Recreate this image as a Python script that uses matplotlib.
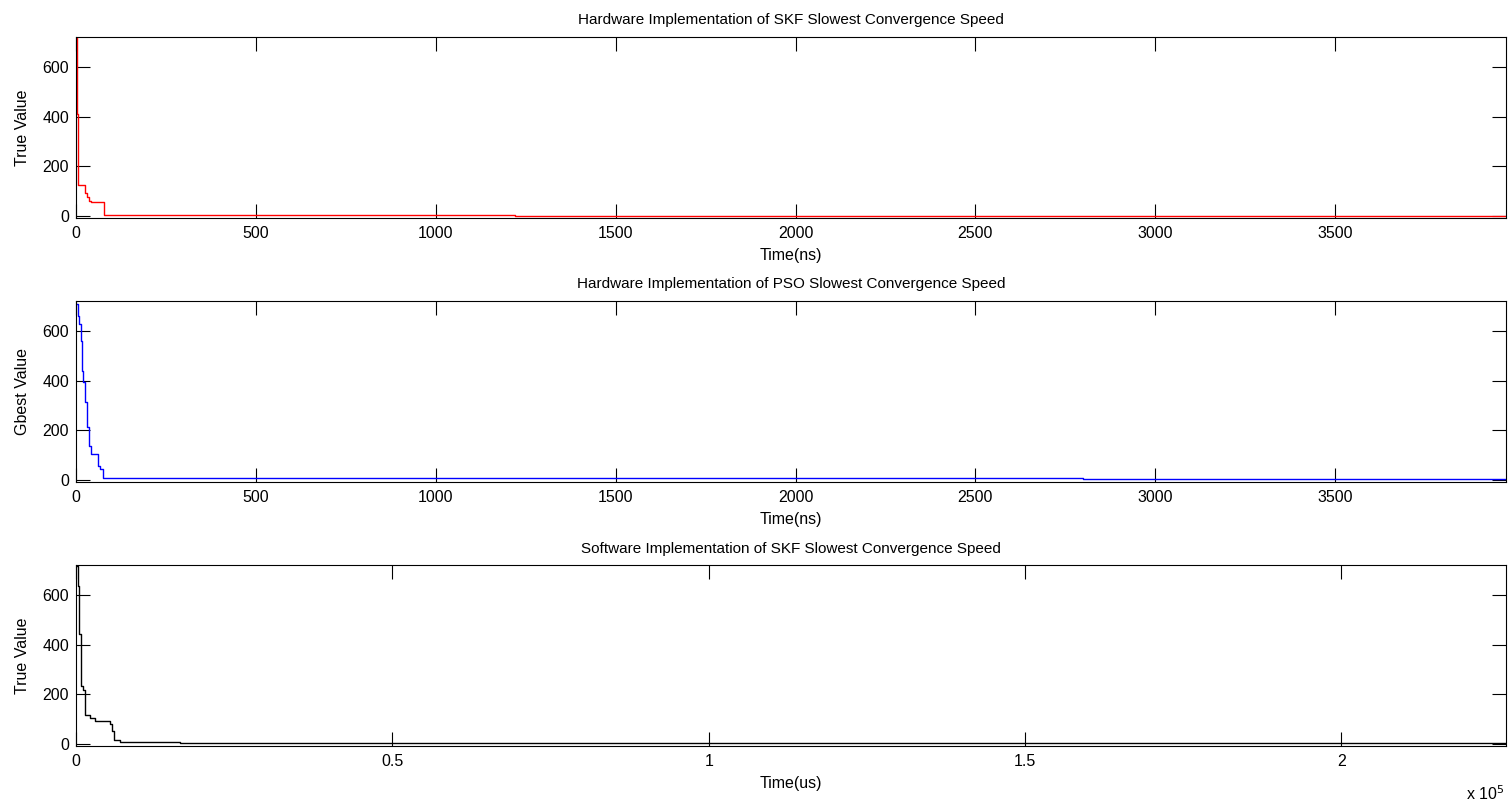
import matplotlib
matplotlib.use("Agg")
import matplotlib.pyplot as plt
from matplotlib.ticker import FuncFormatter

# Hardware SKF (ns) - red
skf_hw_t = [0, 3, 6, 25, 30, 35, 41, 79, 1220, 3975]
skf_hw_v = [725, 409, 123, 90, 73, 60, 53, 4, 0, 0]

# Hardware PSO (ns) - blue
pso_hw_t = [0, 5, 9, 14, 16, 20, 25, 31, 36, 41, 57, 62, 68, 74, 2800, 3975]
pso_hw_v = [708, 661, 630, 560, 439, 393, 313, 212, 137, 103, 103, 56, 43, 5, 1, 1]

# Software SKF (us) - black
skf_sw_t = [0, 300, 520, 790, 1150, 1420, 2210, 3000, 5370, 5740, 6050, 6950, 16430, 226000]
skf_sw_v = [720, 638, 444, 231, 215, 116, 103, 90, 80, 50, 16, 6, 0.5, 0.5]

plt.rcParams["font.family"] = ["Liberation Sans", "DejaVu Sans"]

FS_TICK = 11.5
FS_LABEL = 11.5
FS_TITLE = 11

fig = plt.figure(figsize=(15.11, 8.06), dpi=100)

panels = [
    (skf_hw_t, skf_hw_v, "red", "Hardware Implementation of SKF Slowest Convergence Speed",
     "True Value", "Time(ns)", 0.7295, (0, 3975), [0, 500, 1000, 1500, 2000, 2500, 3000, 3500]),
    (pso_hw_t, pso_hw_v, "blue", "Hardware Implementation of PSO Slowest Convergence Speed",
     "Gbest Value", "Time(ns)", 0.4020, (0, 3975), [0, 500, 1000, 1500, 2000, 2500, 3000, 3500]),
    (skf_sw_t, skf_sw_v, "black", "Software Implementation of SKF Slowest Convergence Speed",
     "True Value", "Time(us)", 0.0744, (0, 226000), [0, 50000, 100000, 150000, 200000]),
]

for t, v, color, title, ylabel, xlabel, bottom, xlim, xticks in panels:
    ax = fig.add_axes([0.0503, bottom, 0.9464, 0.2246])
    ax.plot(t, v, color=color, linewidth=1.0, drawstyle="steps-post")
    ax.set_xlim(*xlim)
    ax.set_ylim(-10, 722)
    ax.set_xticks(xticks)
    ax.set_yticks([0, 200, 400, 600])
    ax.tick_params(direction="in", top=True, right=True, length=10, width=0.8,
                   labelsize=FS_TICK)
    ax.tick_params(axis="x", pad=5.5)
    ax.tick_params(axis="y", pad=5)
    for s in ax.spines.values():
        s.set_linewidth(0.8)
    ax.set_title(title, fontsize=FS_TITLE, pad=9)
    ax.set_ylabel(ylabel, fontsize=FS_LABEL, labelpad=9)
    ax.set_xlabel(xlabel, fontsize=FS_LABEL, labelpad=5)
    if xlim[1] > 10000:
        ax.xaxis.set_major_formatter(FuncFormatter(lambda x, p: f"{x / 1e5:g}"))

fig.text(0.9705, 0.004, r"x 10$^5$", fontsize=FS_TICK, ha="left", va="bottom")

fig.savefig("out.png", dpi=100)
